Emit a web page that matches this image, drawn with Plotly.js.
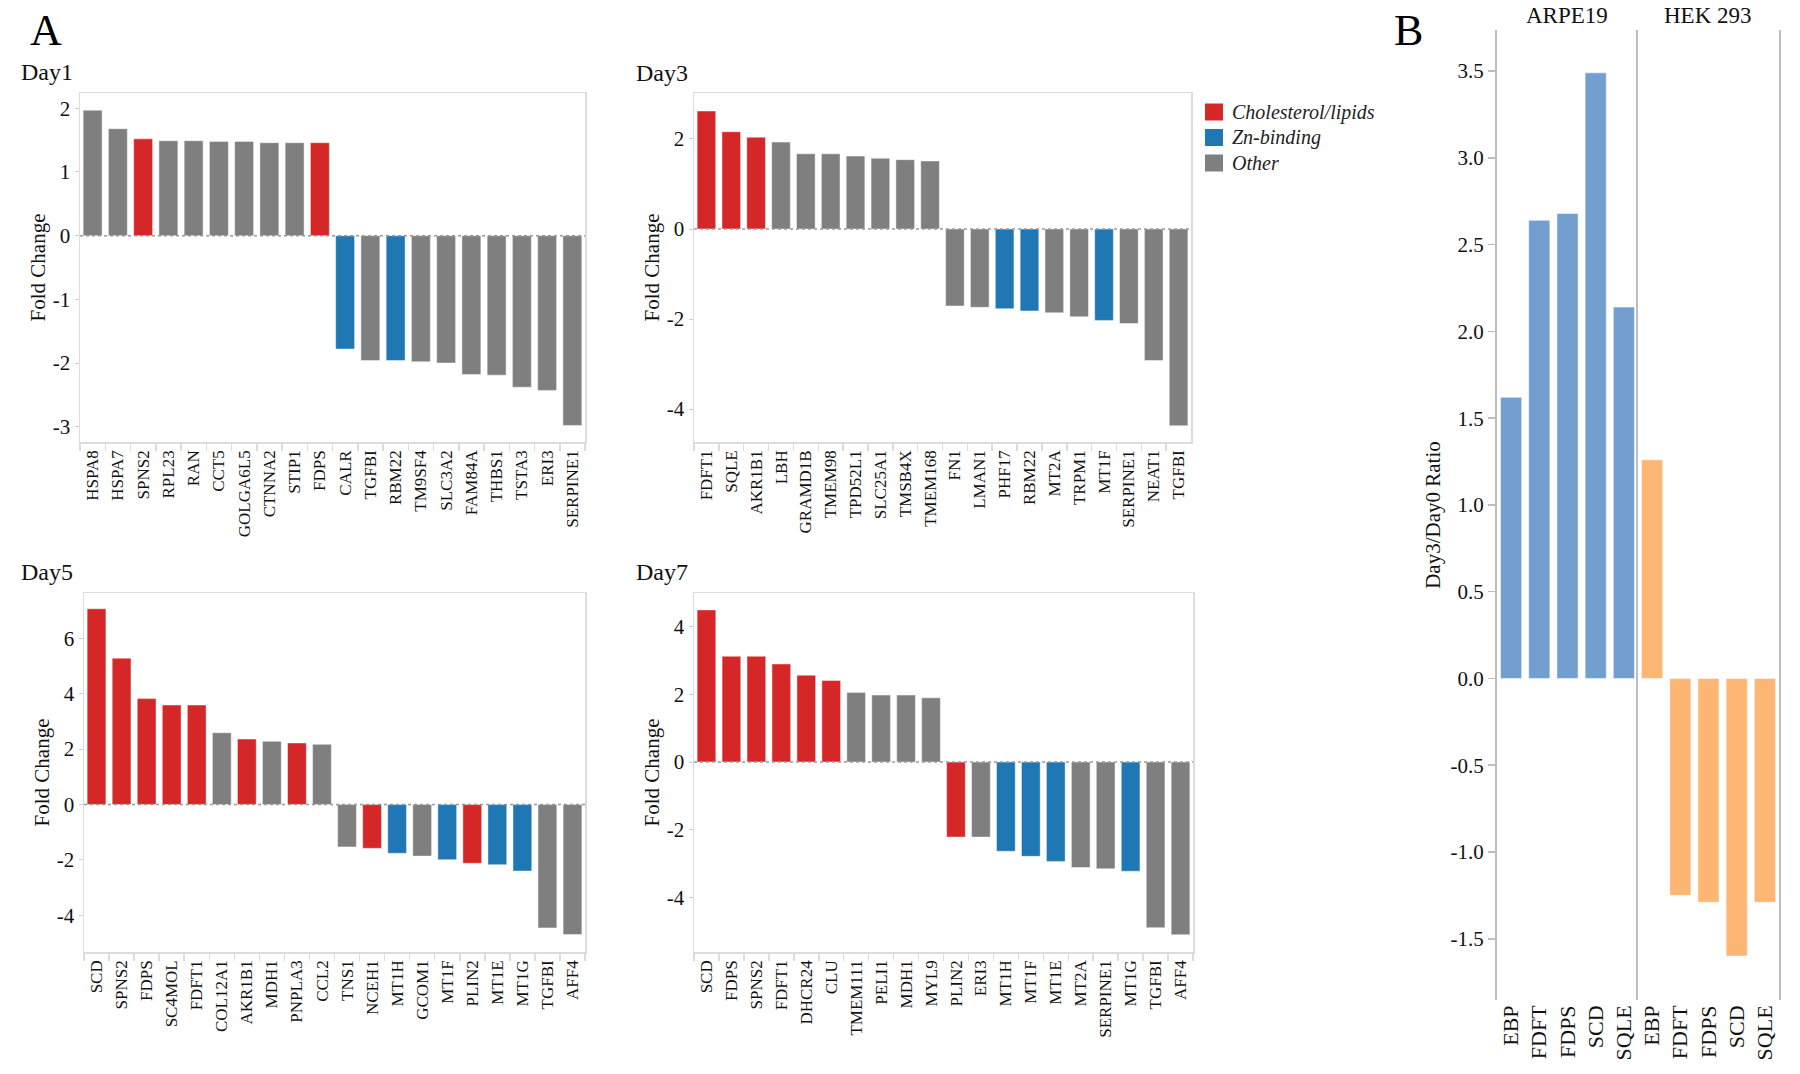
<!DOCTYPE html>
<html>
<head>
<meta charset="utf-8">
<script src="https://cdn.plot.ly/plotly-3.0.1.min.js"></script>
<style>
  html, body { margin: 0; padding: 0; background: #fff; }
  #chart { width: 1800px; height: 1074px; }
</style>
</head>
<body>
<div id="chart"></div>
<script>
// ---------------- DATA ----------------
const groupNames = ['Cholesterol/lipids', 'Zn-binding', 'Other'];
const groupColors = ['#d62728', '#1f77b4', '#7f7f7f'];

const day1Genes = ['HSPA8','HSPA7','SPNS2','RPL23','RAN','CCT5','GOLGA6L5','CTNNA2','STIP1','FDPS',
                   'CALR','TGFBI','RBM22','TM9SF4','SLC3A2','FAM84A','THBS1','TSTA3','ERI3','SERPINE1'];
const day1Values = [1.97,1.68,1.52,1.49,1.49,1.48,1.48,1.46,1.46,1.46,
                    -1.78,-1.96,-1.96,-1.98,-2.0,-2.18,-2.19,-2.38,-2.43,-2.98];
const day1Groups = ['Other','Other','Cholesterol/lipids','Other','Other','Other','Other','Other','Other','Cholesterol/lipids',
                    'Zn-binding','Other','Zn-binding','Other','Other','Other','Other','Other','Other','Other'];

const day3Genes = ['FDFT1','SQLE','AKR1B1','LBH','GRAMD1B','TMEM98','TPD52L1','SLC25A1','TMSB4X','TMEM168',
                   'FN1','LMAN1','PHF17','RBM22','MT2A','TRPM1','MT1F','SERPINE1','NEAT1','TGFBI'];
const day3Values = [2.62,2.16,2.04,1.93,1.67,1.67,1.62,1.57,1.54,1.51,
                    -1.71,-1.74,-1.77,-1.82,-1.86,-1.95,-2.03,-2.10,-2.92,-4.37];
const day3Groups = ['Cholesterol/lipids','Cholesterol/lipids','Cholesterol/lipids','Other','Other','Other','Other','Other','Other','Other',
                    'Other','Other','Zn-binding','Zn-binding','Other','Other','Zn-binding','Other','Other','Other'];

const day5Genes = ['SCD','SPNS2','FDPS','SC4MOL','FDFT1','COL12A1','AKR1B1','MDH1','PNPLA3','CCL2',
                   'TNS1','NCEH1','MT1H','GCOM1','MT1F','PLIN2','MT1E','MT1G','TGFBI','AFF4'];
const day5Values = [7.06,5.28,3.82,3.59,3.59,2.59,2.36,2.28,2.22,2.17,
                    -1.53,-1.58,-1.76,-1.86,-1.99,-2.12,-2.17,-2.40,-4.45,-4.69];
const day5Groups = ['Cholesterol/lipids','Cholesterol/lipids','Cholesterol/lipids','Cholesterol/lipids','Cholesterol/lipids','Other','Cholesterol/lipids','Other','Cholesterol/lipids','Other',
                    'Other','Cholesterol/lipids','Zn-binding','Other','Zn-binding','Cholesterol/lipids','Zn-binding','Zn-binding','Other','Other'];

const day7Genes = ['SCD','FDPS','SPNS2','FDFT1','DHCR24','CLU','TMEM111','PELI1','MDH1','MYL9',
                   'PLIN2','ERI3','MT1H','MT1F','MT1E','MT2A','SERPINE1','MT1G','TGFBI','AFF4'];
const day7Values = [4.50,3.13,3.13,2.90,2.57,2.41,2.06,1.98,1.98,1.90,
                    -2.22,-2.22,-2.64,-2.79,-2.94,-3.12,-3.16,-3.23,-4.90,-5.11];
const day7Groups = ['Cholesterol/lipids','Cholesterol/lipids','Cholesterol/lipids','Cholesterol/lipids','Cholesterol/lipids','Cholesterol/lipids','Other','Other','Other','Other',
                    'Cholesterol/lipids','Other','Zn-binding','Zn-binding','Zn-binding','Other','Other','Zn-binding','Other','Other'];

const bGenes = ['EBP','FDFT','FDPS','SCD','SQLE'];
const arpe19Values = [1.62,2.64,2.68,3.49,2.14];
const hek293Values = [1.26,-1.25,-1.29,-1.60,-1.29];

const day1Ticks = [-3,-2,-1,0,1,2];
const day1TickText = ['-3','-2','-1','0','1','2'];
const day3Ticks = [-4,-2,0,2];
const day3TickText = ['-4','-2','0','2'];
const day5Ticks = [-4,-2,0,2,4,6];
const day5TickText = ['-4','-2','0','2','4','6'];
const day7Ticks = [-4,-2,0,2,4];
const day7TickText = ['-4','-2','0','2','4'];
const bTicks = [-1.5,-1.0,-0.5,0,0.5,1.0,1.5,2.0,2.5,3.0,3.5];
const bTickText = ['-1.5','-1.0','-0.5','0.0','0.5','1.0','1.5','2.0','2.5','3.0','3.5'];

// ---------------- HELPERS ----------------
const W = 1800, H = 1074;
const px = x => x / W;
const py = y => 1 - y / H;
const FONT = '"Liberation Serif", "Times New Roman", serif';

function dayTraces(genes, values, groups, xa, ya) {
  return groupNames.map((g, gi) => {
    const xs = [], ys = [];
    genes.forEach((gene, i) => { if (groups[i] === g) { xs.push(gene); ys.push(values[i]); } });
    return {
      type: 'bar', x: xs, y: ys, name: g, showlegend: false,
      xaxis: xa, yaxis: ya,
      marker: { color: groupColors[gi], line: { color: 'rgba(255,255,255,0.45)', width: 1 } },
      hoverinfo: 'x+y'
    };
  });
}

const traces = [].concat(
  dayTraces(day1Genes, day1Values, day1Groups, 'x', 'y'),
  dayTraces(day3Genes, day3Values, day3Groups, 'x2', 'y2'),
  dayTraces(day5Genes, day5Values, day5Groups, 'x3', 'y3'),
  dayTraces(day7Genes, day7Values, day7Groups, 'x4', 'y4'),
  [
    { type: 'bar', x: bGenes, y: arpe19Values, xaxis: 'x5', yaxis: 'y5', showlegend: false,
      name: 'ARPE19', marker: { color: '#729fcf', line: { color: 'rgba(255,255,255,0.5)', width: 1 } } },
    { type: 'bar', x: bGenes, y: hek293Values, xaxis: 'x6', yaxis: 'y6', showlegend: false,
      name: 'HEK 293', marker: { color: '#fdb673', line: { color: 'rgba(255,255,255,0.5)', width: 1 } } }
  ]
);

const frameColor = '#dcdcdc';

function dayX(domain, anchor, genes) {
  return {
    domain: domain, anchor: anchor, type: 'category',
    categoryorder: 'array', categoryarray: genes,
    tickangle: -90, tickfont: { family: FONT, size: 17, color: '#111' },
    showline: true, mirror: true, linecolor: frameColor, linewidth: 1.5,
    ticks: 'outside', tickson: 'boundaries', ticklen: 7, tickcolor: frameColor, tickwidth: 1.5,
    showgrid: false, zeroline: false, fixedrange: true
  };
}
function dayY(domain, anchor, range, tv, tt) {
  return {
    domain: domain, anchor: anchor, range: range,
    tickmode: 'array', tickvals: tv, ticktext: tt,
    tickfont: { family: FONT, size: 21, color: '#111' },
    showline: true, mirror: true, linecolor: frameColor, linewidth: 1.5,
    ticks: 'outside', ticklen: 4, tickcolor: '#cccccc',
    showgrid: false, zeroline: false, fixedrange: true,
    title: { text: 'Fold Change', font: { family: FONT, size: 21, color: '#111' }, standoff: 1 }
  };
}

function zeroLine(xref, yref) {
  return { type: 'line', xref: xref + ' domain', yref: yref, x0: 0, x1: 1, y0: 0, y1: 0,
           line: { color: '#9a9a9a', width: 1.5, dash: 'dot' }, layer: 'above' };
}

const topDom = [py(442), py(93)];
const botDom = [py(952), py(593)];

// legend (swatches + labels) built from group arrays
const legendShapes = [], legendAnn = [];
groupNames.forEach((g, i) => {
  const cy = 112 + i * 25.5;
  legendShapes.push({ type: 'rect', xref: 'paper', yref: 'paper',
    x0: px(1205), x1: px(1223), y0: py(cy + 8.5), y1: py(cy - 8.5),
    fillcolor: groupColors[i], line: { width: 0 }, layer: 'above' });
  legendAnn.push({ text: '<i>' + g + '</i>', xref: 'paper', yref: 'paper', x: px(1230), y: py(cy),
    xanchor: 'left', yanchor: 'middle', showarrow: false,
    font: { family: FONT, size: 20, color: '#222' } });
});

const layout = {
  width: W, height: H,
  margin: { l: 0, r: 0, t: 0, b: 0 },
  paper_bgcolor: '#ffffff', plot_bgcolor: '#ffffff',
  font: { family: FONT, color: '#111' },
  barmode: 'overlay', bargap: 0.25,
  showlegend: false,
  xaxis: dayX([px(80), px(585)], 'y', day1Genes),
  yaxis: dayY(topDom, 'x', [-3.24, 2.24], day1Ticks, day1TickText),
  xaxis2: dayX([px(694), px(1191)], 'y2', day3Genes),
  yaxis2: dayY(topDom, 'x2', [-4.73, 3.02], day3Ticks, day3TickText),
  xaxis3: dayX([px(84), px(585)], 'y3', day5Genes),
  yaxis3: dayY(botDom, 'x3', [-5.32, 7.63], day5Ticks, day5TickText),
  xaxis4: dayX([px(694), px(1193)], 'y4', day7Genes),
  yaxis4: dayY(botDom, 'x4', [-5.62, 5.0], day7Ticks, day7TickText),
  xaxis5: {
    domain: [px(1497), px(1638)], anchor: 'y5', type: 'category',
    categoryorder: 'array', categoryarray: bGenes,
    tickangle: -90, tickfont: { family: FONT, size: 22, color: '#111' },
    showline: false, ticks: '', showgrid: false, zeroline: false, fixedrange: true
  },
  xaxis6: {
    domain: [px(1638), px(1779)], anchor: 'y6', type: 'category',
    categoryorder: 'array', categoryarray: bGenes,
    tickangle: -90, tickfont: { family: FONT, size: 22, color: '#111' },
    showline: false, ticks: '', showgrid: false, zeroline: false, fixedrange: true
  },
  yaxis5: {
    domain: [py(1000), py(30)], anchor: 'x5', range: [-1.853, 3.737],
    tickmode: 'array', tickvals: bTicks, ticktext: bTickText,
    tickfont: { family: FONT, size: 21, color: '#111' },
    showline: true, linecolor: '#bdbdbd', linewidth: 2,
    ticks: 'outside', ticklen: 7, tickcolor: '#bdbdbd', tickwidth: 1.5,
    showgrid: false, zeroline: false, fixedrange: true,
    title: { text: 'Day3/Day0 Ratio', font: { family: FONT, size: 21, color: '#111' }, standoff: 4 }
  },
  yaxis6: {
    domain: [py(1000), py(30)], anchor: 'x6', matches: 'y5',
    showline: true, mirror: true, linecolor: '#bdbdbd', linewidth: 2,
    showticklabels: false, ticks: '', showgrid: false, zeroline: false, fixedrange: true
  },
  shapes: [zeroLine('x', 'y'), zeroLine('x2', 'y2'), zeroLine('x3', 'y3'), zeroLine('x4', 'y4')].concat(legendShapes),
  annotations: [
    { text: 'A', xref: 'paper', yref: 'paper', x: px(28), y: py(4), xanchor: 'left', yanchor: 'top',
      showarrow: false, font: { family: FONT, size: 44, color: '#000' } },
    { text: 'B', xref: 'paper', yref: 'paper', x: px(1392), y: py(4), xanchor: 'left', yanchor: 'top',
      showarrow: false, font: { family: FONT, size: 44, color: '#000' } },
    { text: 'Day1', xref: 'paper', yref: 'paper', x: px(19), y: py(72), xanchor: 'left', yanchor: 'middle',
      showarrow: false, font: { family: FONT, size: 24, color: '#111' } },
    { text: 'Day3', xref: 'paper', yref: 'paper', x: px(634), y: py(73), xanchor: 'left', yanchor: 'middle',
      showarrow: false, font: { family: FONT, size: 24, color: '#111' } },
    { text: 'Day5', xref: 'paper', yref: 'paper', x: px(19), y: py(572), xanchor: 'left', yanchor: 'middle',
      showarrow: false, font: { family: FONT, size: 24, color: '#111' } },
    { text: 'Day7', xref: 'paper', yref: 'paper', x: px(634), y: py(572), xanchor: 'left', yanchor: 'middle',
      showarrow: false, font: { family: FONT, size: 24, color: '#111' } },
    { text: 'ARPE19', xref: 'paper', yref: 'paper', x: px(1567), y: py(16), xanchor: 'center', yanchor: 'middle',
      showarrow: false, font: { family: FONT, size: 23, color: '#111' } },
    { text: 'HEK 293', xref: 'paper', yref: 'paper', x: px(1708), y: py(16), xanchor: 'center', yanchor: 'middle',
      showarrow: false, font: { family: FONT, size: 23, color: '#111' } }
  ].concat(legendAnn)
};

Plotly.newPlot('chart', traces, layout, { staticPlot: true, displayModeBar: false });
</script>
</body>
</html>
